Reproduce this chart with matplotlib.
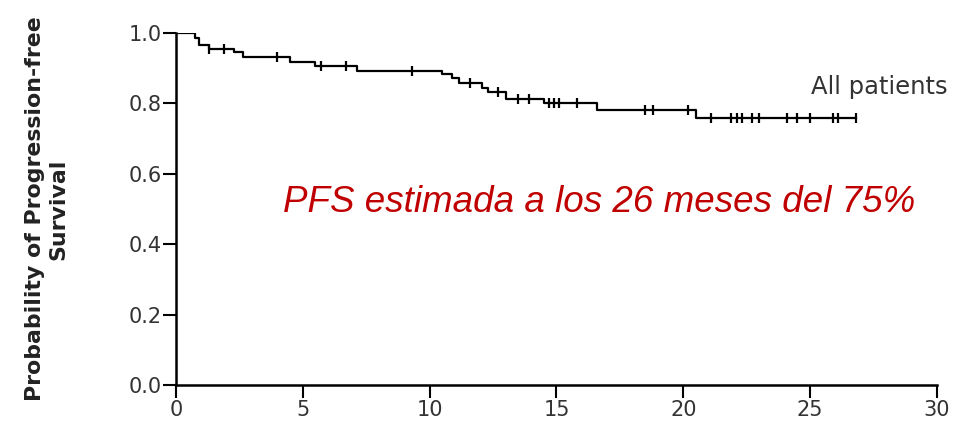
import matplotlib
matplotlib.use("Agg")
import matplotlib.pyplot as plt
import numpy as np

# Kaplan-Meier steps (months, survival probability)
step_times = [0, 0.75, 0.9, 1.3, 2.3, 2.65, 4.5, 5.5, 7.15, 10.5, 10.9, 11.15,
              12.05, 12.3, 13.0, 14.5, 16.6, 20.5, 26.8]
step_surv = [1.0, 0.985, 0.966, 0.955, 0.945, 0.932, 0.918, 0.905, 0.892, 0.883,
             0.871, 0.857, 0.844, 0.831, 0.812, 0.800, 0.781, 0.758, 0.758]

# censored observations (months)
censor_times = [1.3, 1.9, 4.0, 5.7, 6.7, 9.3, 11.6, 12.7, 13.5, 13.9, 14.7, 14.9,
                15.1, 15.8, 18.5, 18.8, 20.2, 21.1, 21.9, 22.1, 22.3, 22.7, 23.0,
                24.1, 24.5, 25.0, 25.9, 26.1, 26.8]

x_ticks = [0, 5, 10, 15, 20, 25, 30]
y_ticks = [0.0, 0.2, 0.4, 0.6, 0.8, 1.0]

plt.rcParams['font.family'] = ['DejaVu Sans']

fig = plt.figure(figsize=(9.59, 4.32), dpi=100)
ax = fig.add_axes([0.1835, 0.1088, 0.7935, 0.8148])

ax.step(step_times, step_surv, where='post', color='black', lw=1.6)

# survival level at each censored time
idx = np.searchsorted(step_times, censor_times, side='right') - 1
censor_surv = np.array(step_surv)[idx]
ax.plot(censor_times, censor_surv, ls='none', marker='|', color='black',
        markersize=7, markeredgewidth=1.6)

ax.set_xlim(0, 30)
ax.set_ylim(0, 1.0)
ax.set_xticks(x_ticks)
ax.set_yticks(y_ticks)
ax.set_yticklabels([f"{v:.1f}" for v in y_ticks])

for side in ['top', 'right']:
    ax.spines[side].set_visible(False)
for side in ['left', 'bottom']:
    ax.spines[side].set_linewidth(1.8)
ax.tick_params(direction='out', length=9.5, width=1.5, labelsize=15,
               labelcolor='#333333', pad=1)

ax.set_ylabel("Probability of Progression-free\nSurvival", fontsize=15.8,
              fontweight='bold', linespacing=1.2, color='#222222')
ax.yaxis.set_label_coords(-0.142, 0.5)

ax.text(25.05, 0.847, "All patients", fontsize=17.5, color='#333333',
        va='center', ha='left', clip_on=False)

ax.text(4.22, 0.491, "PFS estimada a los 26 meses del 75%", fontsize=26.5,
        color='#C00000', style='italic', family=['Liberation Sans'],
        va='baseline', ha='left')

fig.savefig("out.png", dpi=100)
